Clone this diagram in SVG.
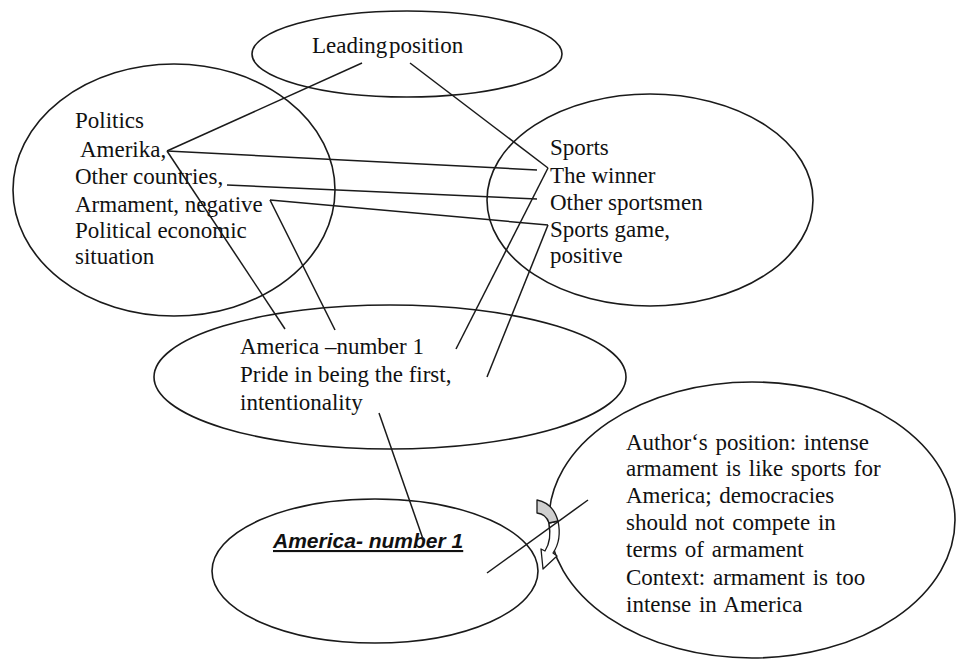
<svg xmlns="http://www.w3.org/2000/svg" width="957" height="660" viewBox="0 0 957 660">
  <style>
    .node ellipse { fill: none; stroke: #1a1a1a; stroke-width: 1.6; }
    .lbl { font-family: "Liberation Serif", "Times New Roman", serif; font-size: 23px; fill: #111; }
    .title { font-family: "Liberation Sans", Arial, sans-serif; font-size: 21px; font-weight: bold; font-style: italic; fill: #111; }
    #connectors line { stroke: #1a1a1a; stroke-width: 1.5; }
  </style>
  <rect width="957" height="660" fill="#fff"/>

  <!-- nodes -->
  <g id="leading" class="node">
    <ellipse cx="407" cy="54" rx="155" ry="43"/>
    <text class="lbl" x="312" y="53" word-spacing="-4">Leading position</text>
  </g>

  <g id="politics" class="node">
    <ellipse cx="174" cy="190" rx="161" ry="126"/>
    <text class="lbl" x="75" y="128">Politics</text>
    <text class="lbl" x="80" y="157">Amerika,</text>
    <text class="lbl" x="75" y="184">Other countries,</text>
    <text class="lbl" x="75" y="212">Armament, negative</text>
    <text class="lbl" x="75" y="238">Political economic</text>
    <text class="lbl" x="75" y="264">situation</text>
  </g>

  <g id="sports" class="node">
    <ellipse cx="650" cy="200" rx="163" ry="106"/>
    <text class="lbl" x="550" y="155">Sports</text>
    <text class="lbl" x="550" y="183">The winner</text>
    <text class="lbl" x="550" y="210">Other sportsmen</text>
    <text class="lbl" x="550" y="237">Sports game,</text>
    <text class="lbl" x="550" y="263">positive</text>
  </g>

  <g id="america" class="node">
    <ellipse cx="390" cy="377" rx="236" ry="72"/>
    <text class="lbl" x="240" y="354">America –number 1</text>
    <text class="lbl" x="240" y="382">Pride in being the first,</text>
    <text class="lbl" x="240" y="410">intentionality</text>
  </g>

  <g id="summary" class="node">
    <ellipse cx="375" cy="571" rx="163" ry="72"/>
    <text class="title" x="273" y="548" text-decoration="underline">America- number 1</text>
  </g>

  <g id="author" class="node">
    <ellipse cx="752" cy="520" rx="203" ry="138"/>
    <g word-spacing="2">
      <text class="lbl" x="626" y="450">Author‘s position: intense</text>
      <text class="lbl" x="626" y="476">armament is like sports for</text>
      <text class="lbl" x="626" y="503">America;  democracies</text>
      <text class="lbl" x="626" y="530">should not compete  in</text>
      <text class="lbl" x="626" y="557">terms of armament</text>
      <text class="lbl" x="626" y="585">Context: armament is too</text>
      <text class="lbl" x="626" y="612">intense in America</text>
    </g>
  </g>

  <!-- curved block arrow between the two bottom nodes -->
  <g id="curved-arrow" stroke="#1a1a1a" stroke-width="1.3" stroke-linejoin="round">
    <path d="M558,521 Q562,540 553,553 L557,556 L543,569 L541,549 L545,551 Q552,540 549,523 Z" fill="#fff"/>
    <path d="M537,500 Q553,503 558,521 L549,523 Q546,514 537,513 Z" fill="#cfcfcf"/>
  </g>

  <!-- connectors -->
  <g id="connectors">
    <line x1="362" y1="63" x2="167" y2="151"/>
    <line x1="410" y1="63" x2="548" y2="168"/>
    <line x1="167" y1="151" x2="537" y2="170"/>
    <line x1="227" y1="185" x2="537" y2="199"/>
    <line x1="270" y1="200" x2="548" y2="225"/>
    <line x1="167" y1="151" x2="285" y2="329"/>
    <line x1="270" y1="200" x2="335" y2="330"/>
    <line x1="548" y1="168" x2="456" y2="349"/>
    <line x1="548" y1="225" x2="487" y2="377"/>
    <line x1="379" y1="413" x2="423" y2="539"/>
    <line x1="487" y1="573" x2="588" y2="500"/>
  </g>
</svg>
